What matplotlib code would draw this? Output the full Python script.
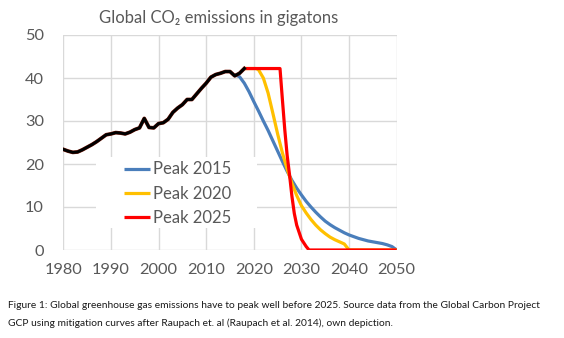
import matplotlib
matplotlib.use("Agg")
import matplotlib.pyplot as plt
from matplotlib.patches import Rectangle

# ---------------- data ----------------
hist_years = list(range(1980, 2019))
hist_values = [23.4, 23.0, 22.7, 22.8, 23.3, 23.9, 24.5, 25.2, 26.0, 26.8,
               27.0, 27.3, 27.2, 27.0, 27.4, 28.0, 28.4, 30.6, 28.5, 28.4,
               29.4, 29.6, 30.4, 32.0, 33.0, 33.8, 35.0, 35.0, 36.3, 37.6,
               38.8, 40.2, 40.8, 41.1, 41.5, 41.5, 40.5, 41.1, 42.2]

peak2015_years = [2016, 2017, 2018, 2019, 2020, 2021, 2022, 2023, 2024, 2025,
                  2026, 2027, 2028, 2029, 2030, 2031, 2032, 2033, 2034, 2035,
                  2036, 2037, 2038, 2039, 2040, 2041, 2042, 2043, 2044, 2045,
                  2046, 2047, 2048, 2049, 2050]
peak2015_values = [40.8, 40.3, 38.8, 36.8, 34.5, 32.3, 30.0, 27.8, 25.4, 23.0,
                   20.6, 18.3, 16.2, 14.4, 12.8, 11.3, 10.0, 8.8, 7.7, 6.7,
                   5.9, 5.2, 4.6, 4.0, 3.5, 3.1, 2.7, 2.4, 2.1, 1.9,
                   1.7, 1.5, 1.2, 0.8, 0.0]

peak2020_years = [2018, 2020.5, 2021, 2022, 2023, 2024, 2025, 2026, 2027, 2028,
                  2029, 2030, 2031, 2032, 2033, 2034, 2035, 2036, 2037, 2038,
                  2039, 2040, 2050]
peak2020_values = [42.2, 42.2, 41.9, 40.0, 36.5, 31.8, 27.0, 22.6, 18.8, 15.5,
                   12.7, 10.3, 8.6, 7.1, 5.8, 4.7, 3.8, 3.0, 2.4, 1.9,
                   1.4, 0.0, 0.0]

peak2025_years = [2018, 2025.5, 2026, 2026.5, 2027, 2027.5, 2028, 2028.5,
                  2029, 2030, 2031, 2031.6, 2050]
peak2025_values = [42.2, 42.2, 35.0, 28.0, 22.0, 17.5, 12.5, 8.5,
                   5.8, 2.5, 0.8, 0.0, 0.0]

series_labels = ["Peak 2015", "Peak 2020", "Peak 2025"]
x_ticks = [1980, 1990, 2000, 2010, 2020, 2030, 2040, 2050]
y_ticks = [0, 10, 20, 30, 40, 50]

title_text = "Global CO\u2082 emissions in gigatons"
caption_lines = [
    "Figure 1: Global greenhouse gas emissions have to peak well before 2025. Source data from the Global Carbon Project",
    "GCP using mitigation curves after Raupach et. al (Raupach et al. 2014), own depiction.",
]

# ---------------- style ----------------
FONT = ["Lato", "DejaVu Sans"]
plt.rcParams["font.family"] = FONT
GRAY = "#595959"
GRID = "#D9D9D9"
BLUE = "#4A7EBB"
ORANGE = "#FFC000"
RED = "#FF0000"

W, H = 564, 338
fig = plt.figure(figsize=(W / 100, H / 100), dpi=100)
ax = fig.add_axes([63.3 / W, 1 - 250 / H, (396.7 - 63.3) / W, (250 - 35) / H])

ax.set_xlim(1980, 2050)
ax.set_ylim(0, 50)
ax.set_xticks(x_ticks)
ax.set_yticks(y_ticks)
ax.grid(True, color=GRID, linewidth=1.0)
ax.set_axisbelow(True)
for s in ax.spines.values():
    s.set_visible(False)
ax.tick_params(length=0, labelsize=11.8, labelcolor=GRAY)
ax.tick_params(axis="x", pad=9)
ax.tick_params(axis="y", pad=14)

lw = 2.3
l1, = ax.plot(peak2015_years, peak2015_values, color=BLUE, lw=lw, zorder=3,
              solid_capstyle="butt")
l2, = ax.plot(peak2020_years, peak2020_values, color=ORANGE, lw=lw, zorder=4,
              solid_capstyle="butt")
l3, = ax.plot(peak2025_years, peak2025_values, color=RED, lw=lw, zorder=5,
              solid_capstyle="butt")
ax.plot(hist_years, hist_values, color="#7a1a0a", lw=lw + 0.4, zorder=6,
        solid_joinstyle="round")
ax.plot(hist_years, hist_values, color="black", lw=lw - 0.2, zorder=7,
        solid_joinstyle="round")

# white legend box (covers gridlines)
x0 = (96 - 63.3) / (396.7 - 63.3)
x1 = (257 - 63.3) / (396.7 - 63.3)
y0 = (250 - 228) / 215
y1 = (250 - 157) / 215
ax.add_patch(Rectangle((x0, y0), x1 - x0, y1 - y0, transform=ax.transAxes,
                       facecolor="white", edgecolor="none", zorder=1))

leg = ax.legend([l1, l2, l3], series_labels, loc="upper left",
                bbox_to_anchor=((121 - 63.3) / (396.7 - 63.3), (250 - 158) / 215),
                frameon=False, fontsize=12, handlelength=1.55,
                handletextpad=0.15, labelspacing=0.5, borderpad=0.2,
                borderaxespad=0)
for t in leg.get_texts():
    t.set_color(GRAY)

fig.text(219 / W, 1 - 18 / H, title_text, ha="center", va="center",
         fontsize=12, color=GRAY, family=FONT)

fig.text(8 / W, 1 - 305 / H, caption_lines[0], ha="left", va="center",
         fontsize=7.42, color="#1a1a1a", family=FONT)
fig.text(8 / W, 1 - 323 / H, caption_lines[1], ha="left", va="center",
         fontsize=7.42, color="#1a1a1a", family=FONT)

fig.savefig("out.png", dpi=100, facecolor="white")
